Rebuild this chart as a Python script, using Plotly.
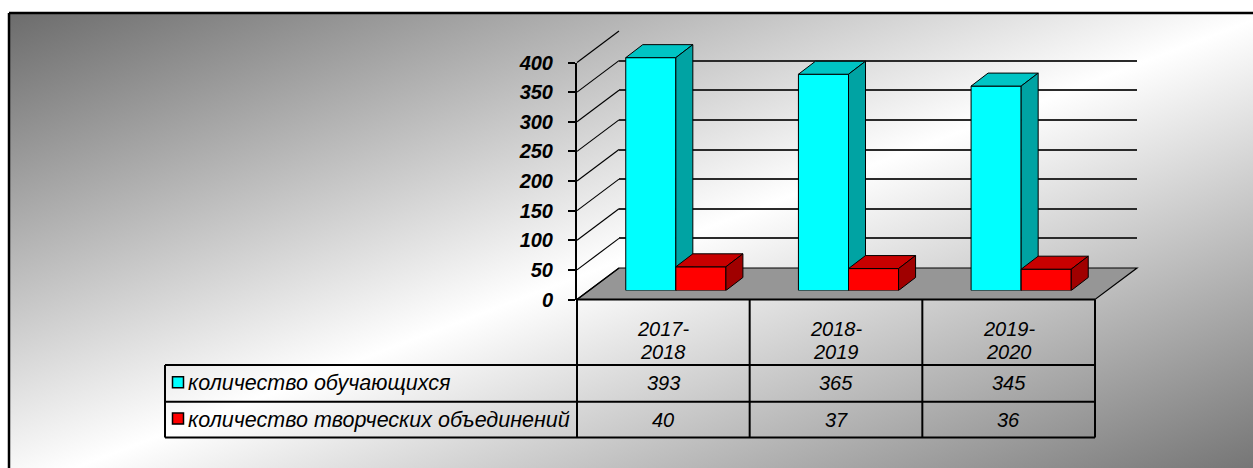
import base64
import plotly.graph_objects as go

# ---------------- data ----------------
categories = ["2017-2018", "2018-2019", "2019-2020"]
series_names = ["количество обучающихся", "количество творческих объединений"]
students = [393, 365, 345]
associations = [40, 37, 36]
y_ticks = [0, 50, 100, 150, 200, 250, 300, 350, 400]

series_values = [students, associations]
front_colors = ["#00FFFF", "#FF0000"]
top_colors = ["#00C4C4", "#C80000"]
side_colors = ["#00A3A3", "#A00000"]

# ---------------- geometry (pixels) ----------------
W, H = 1253, 468
FX0, FX1 = 577, 1095          # front plane x extent
FY0, FY1 = 299.5, 62.5        # front plane: y of value 0 and value YMAX
YMAX = 400
KY = (FY0 - FY1) / YMAX       # px per value unit
KX = (FX1 - FX0) / len(categories)  # px per category
BAR_SHIFT = (12.5, -9.0)      # bar plane relative to front plane
BACK_SHIFT = (42.0, -31.5)    # back wall relative to front plane
DEPTH = (17.0, -13.0)         # bar depth
BAR_W = 0.29
BAR_YMAX = 450


def px(x):
    return x / W


def py(y):
    return 1 - y / H


def ydom(zero_py, ymax, top_val):
    return [py(zero_py), py(zero_py - top_val * KY)]


FONT = "Arial, 'Liberation Sans', sans-serif"

fig = go.Figure()

fig.add_trace(go.Scatter(x=[], y=[], xaxis="x", yaxis="y", showlegend=False, hoverinfo="skip"))
fig.add_trace(go.Scatter(x=[], y=[], xaxis="x2", yaxis="y2", showlegend=False, hoverinfo="skip"))

ddx = DEPTH[0] / KX
ddy = -DEPTH[1] / KY
offsets = [-BAR_W, 0.0]
for s, vals in enumerate(series_values):
    xa, ya = f"x{s + 3}", f"y{s + 3}"
    xs = list(range(len(categories)))
    fig.add_trace(go.Bar(
        x=xs, y=vals, width=BAR_W, offset=offsets[s], name=series_names[s],
        marker=dict(color=front_colors[s], line=dict(color="black", width=1)),
        xaxis=xa, yaxis=ya, showlegend=False, hoverinfo="skip",
    ))
    tx, ty, sx, sy = [], [], [], []
    for i, v in zip(xs, vals):
        L = i + offsets[s]
        R = L + BAR_W
        tx += [L, R, R + ddx, L + ddx, L, None]
        ty += [v, v, v + ddy, v + ddy, v, None]
        sx += [R, R + ddx, R + ddx, R, R, None]
        sy += [0, ddy, v + ddy, v, 0, None]
    fig.add_trace(go.Scatter(x=tx, y=ty, fill="toself", fillcolor=top_colors[s], mode="lines",
                             line=dict(color="black", width=1), xaxis=xa, yaxis=ya,
                             showlegend=False, hoverinfo="skip"))
    fig.add_trace(go.Scatter(x=sx, y=sy, fill="toself", fillcolor=side_colors[s], mode="lines",
                             line=dict(color="black", width=1), xaxis=xa, yaxis=ya,
                             showlegend=False, hoverinfo="skip"))

hidden = dict(visible=False, fixedrange=True, automargin=False)
cat_range = [-0.5, len(categories) - 0.5]

layout = dict(
    width=W, height=H, margin=dict(l=0, r=0, t=0, b=0, pad=0, autoexpand=False),
    paper_bgcolor="white", plot_bgcolor="rgba(0,0,0,0)",
    barmode="overlay", showlegend=False,
    xaxis=dict(domain=[px(FX0), px(FX1)], range=cat_range, anchor="y", **hidden),
    yaxis=dict(domain=ydom(FY0, YMAX, YMAX), range=[0, YMAX], anchor="x", automargin=False,
               tickvals=y_ticks, ticks="outside", ticklen=7, tickwidth=1.5, tickcolor="black",
               showline=True, linecolor="black", linewidth=2, showgrid=False, zeroline=False,
               ticklabelstandoff=11,
               tickfont=dict(family=FONT, size=20, color="black", weight="bold", style="italic"),
               fixedrange=True),
    xaxis2=dict(domain=[px(FX0 + BACK_SHIFT[0]), px(FX1 + BACK_SHIFT[0])], range=cat_range,
                anchor="y2", **hidden),
    yaxis2=dict(domain=ydom(FY0 + BACK_SHIFT[1], YMAX, YMAX), range=[0, YMAX], anchor="x2",
                tickvals=y_ticks, showticklabels=False, ticks="", showline=False, automargin=False,
                showgrid=True, gridcolor="#2a2a2a", gridwidth=1.6, zeroline=False, fixedrange=True),
)
for s in range(len(series_values)):
    layout[f"xaxis{s + 3}"] = dict(domain=[px(FX0 + BAR_SHIFT[0]), px(FX1 + BAR_SHIFT[0])],
                                   range=cat_range, anchor=f"y{s + 3}", **hidden)
    layout[f"yaxis{s + 3}"] = dict(domain=ydom(FY0 + BAR_SHIFT[1], YMAX, BAR_YMAX),
                                   range=[0, BAR_YMAX], anchor=f"x{s + 3}", **hidden)
fig.update_layout(**layout)

svg = (
    f'<svg xmlns="http://www.w3.org/2000/svg" width="{W}" height="{H}" viewBox="0 0 {W} {H}">'
    '<defs><linearGradient id="g" x1="0" y1="0" x2="1" y2="1">'
    '<stop offset="0" stop-color="#6c6c6c"/><stop offset="0.5" stop-color="#ffffff"/>'
    '<stop offset="1" stop-color="#6c6c6c"/></linearGradient></defs>'
    f'<rect x="9" y="13" width="{W + 10}" height="{H + 12}" fill="url(#g)"/></svg>'
)
fig.add_layout_image(dict(
    source="data:image/svg+xml;base64," + base64.b64encode(svg.encode()).decode(),
    xref="paper", yref="paper", x=0, y=1, sizex=1, sizey=1,
    xanchor="left", yanchor="top", sizing="stretch", layer="below",
))

shapes = []


def line(x0, y0, x1, y1, w=1.0, c="black"):
    shapes.append(dict(type="line", xref="paper", yref="paper", x0=px(x0), y0=py(y0),
                       x1=px(x1), y1=py(y1), line=dict(color=c, width=w), layer="below"))


line(9, 13, W + 20, 13, 2.5)
line(9, 13, 9, H + 20, 2.5)

bx, by = BACK_SHIFT
shapes.append(dict(
    type="path", xref="paper", yref="paper", layer="below",
    path=(f"M {px(FX0)},{py(FY0)} L {px(FX1)},{py(FY0)} L {px(FX1 + bx)},{py(FY0 + by)} "
          f"L {px(FX0 + bx)},{py(FY0 + by)} Z"),
    fillcolor="#969696", line=dict(color="black", width=1.2),
))

for v in y_ticks:
    yf = FY0 - v * KY
    line(FX0, yf, FX0 + bx, yf + by, 1.2)

ROW_Y = [FY0, 365.0, 401.7, 437.5]
LEG_X0 = 165
line(FX0, ROW_Y[0], FX1, ROW_Y[0], 2)
for yy in ROW_Y[1:]:
    line(LEG_X0, yy, FX1, yy, 2)
for i in range(len(categories) + 1):
    xx = FX0 + i * KX
    line(xx, ROW_Y[0], xx, ROW_Y[3], 2)
line(LEG_X0, ROW_Y[1], LEG_X0, ROW_Y[3], 2)

annotations = []
tfont = dict(family=FONT, size=20, color="black", style="italic")
lfont = dict(family=FONT, size=21.5, color="black", style="italic")
for i, cat in enumerate(categories):
    a, b = cat.split("-")
    annotations.append(dict(x=i, xref="x", y=py(329), yref="paper", text=a + "-",
                            showarrow=False, font=tfont, xanchor="center", yanchor="middle"))
    annotations.append(dict(x=i, xref="x", y=py(351.5), yref="paper", text=b,
                            showarrow=False, font=tfont, xanchor="center", yanchor="middle"))
for s, vals in enumerate(series_values):
    yc = (ROW_Y[s + 1] + ROW_Y[s + 2]) / 2
    for i, v in enumerate(vals):
        annotations.append(dict(x=i, xref="x", y=py(yc), yref="paper", text=str(v),
                                showarrow=False, font=tfont, xanchor="center", yanchor="middle"))
    shapes.append(dict(type="rect", xref="paper", yref="paper",
                       x0=px(172.5), x1=px(183.5), y0=py(yc - 6.5), y1=py(yc + 4.5),
                       fillcolor=front_colors[s], line=dict(color="black", width=1.5)))
    annotations.append(dict(x=px(186), xref="paper", y=py(yc), yref="paper", text=series_names[s],
                            showarrow=False, font=lfont, xanchor="left", yanchor="middle"))

fig.update_layout(shapes=shapes, annotations=annotations)

post = """
var d = document.getElementsByClassName('plotly-graph-div')[0];
document.documentElement.style.margin = '0';
document.documentElement.style.overflow = 'hidden';
document.body.style.margin = '0';
document.body.style.overflow = 'hidden';
d.style.position = 'fixed';
d.style.top = '0px';
d.style.left = '0px';
"""

fig.write_html("out.html", config=dict(displayModeBar=False), post_script=post)
